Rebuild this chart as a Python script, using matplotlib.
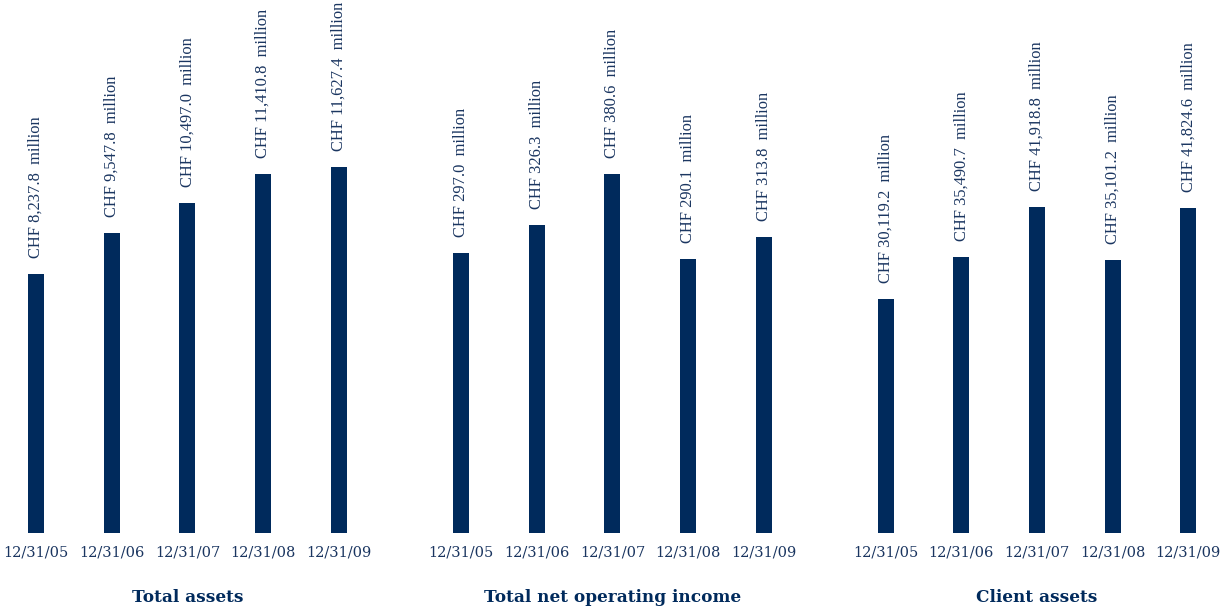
import matplotlib
matplotlib.use("Agg")
import matplotlib.pyplot as plt

dates = ["12/31/05", "12/31/06", "12/31/07", "12/31/08", "12/31/09"]
titles = ["Total assets", "Total net operating income", "Client assets"]
total_assets = [8237.8, 9547.8, 10497.0, 11410.8, 11627.4]
net_income = [297.0, 326.3, 380.6, 290.1, 313.8]
client_assets = [30119.2, 35490.7, 41918.8, 35101.2, 41824.6]
value_labels = [
    ["8,237.8", "9,547.8", "10,497.0", "11,410.8", "11,627.4"],
    ["297.0", "326.3", "380.6", "290.1", "313.8"],
    ["30,119.2", "35,490.7", "41,918.8", "35,101.2", "41,824.6"],
]
series = [total_assets, net_income, client_assets]

NAVY = "#002a5c"
TEXT = "#1a3560"
W, H = 1222, 606
fig = plt.figure(figsize=(W / 100, H / 100), dpi=100)

first_centers = [36, 461, 885.5]
spacing = 75.7
ylims = [16948, 565.1, 68509]
bottom_px = 533
FONT = "DejaVu Serif"
VFONT = "Liberation Serif"

for i in range(3):
    left = first_centers[i] - 0.4 * spacing
    width = 4.8 * spacing
    ax = fig.add_axes([left / W, (H - bottom_px) / H, width / W, bottom_px / H])
    ax.set_xlim(-0.4, 4.4)
    ax.set_ylim(0, ylims[i])
    xs = list(range(len(dates)))
    ax.bar(xs, series[i], width=16 / spacing, color=NAVY)
    for x, v, lab in zip(xs, series[i], value_labels[i]):
        ax.annotate(f"CHF {lab}  million", (x, v), xytext=(0, 16),
                    textcoords="offset pixels", rotation=90, ha="center",
                    va="bottom", color=TEXT, fontsize=11.9, family=VFONT,
                    annotation_clip=False)
    ax.set_xticks(xs)
    ax.set_xticklabels(dates, fontsize=10.5, color=TEXT, family=FONT)
    ax.tick_params(axis="x", length=0, pad=9)
    ax.set_yticks([])
    for s in ax.spines.values():
        s.set_visible(False)
    ax.patch.set_alpha(0)
    cx = first_centers[i] + 2 * spacing
    fig.text(cx / W, (H - 602) / H, titles[i], ha="center", va="baseline",
             color=NAVY, fontsize=12.2, fontweight="bold", family=FONT)

fig.savefig("out.png", dpi=100)
